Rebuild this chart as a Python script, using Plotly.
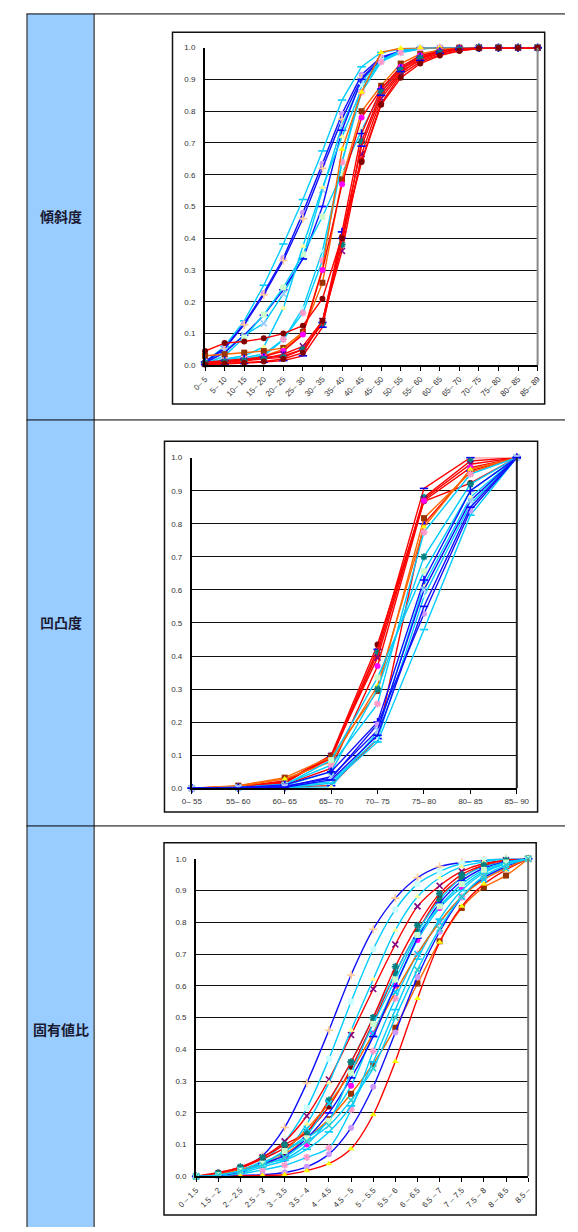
import plotly.graph_objects as go

W, H = 578, 1232

# ---- 傾斜度 (slope) : cumulative ratio per class ----
slope_categories = ["0– 5", "5– 10", "10– 15", "15– 20", "20– 25", "25– 30", "30– 35",
                    "35– 40", "40– 45", "45– 50", "50– 55", "55– 60", "60– 65", "65– 70",
                    "70– 75", "75– 80", "80– 85", "85– 89"]
slope_values = [
    [0.010, 0.060, 0.140, 0.252, 0.382, 0.522, 0.675, 0.835, 0.940, 0.985, 0.996, 1, 1, 1, 1, 1, 1, 1],
    [0.012, 0.055, 0.132, 0.228, 0.338, 0.480, 0.635, 0.792, 0.915, 0.970, 0.990, 0.998, 1, 1, 1, 1, 1, 1],
    [0.008, 0.052, 0.128, 0.222, 0.330, 0.462, 0.620, 0.775, 0.905, 0.965, 0.988, 0.997, 1, 1, 1, 1, 1, 1],
    [0.006, 0.045, 0.095, 0.132, 0.225, 0.340, 0.552, 0.755, 0.895, 0.960, 0.985, 0.996, 1, 1, 1, 1, 1, 1],
    [0.008, 0.040, 0.095, 0.158, 0.238, 0.335, 0.500, 0.740, 0.900, 0.965, 0.990, 0.998, 1, 1, 1, 1, 1, 1],
    [0.005, 0.030, 0.088, 0.160, 0.245, 0.350, 0.468, 0.605, 0.740, 0.860, 0.935, 0.975, 0.992, 0.998, 1, 1, 1, 1],
    [0.004, 0.020, 0.030, 0.058, 0.180, 0.375, 0.560, 0.720, 0.870, 0.960, 0.990, 1, 1, 1, 1, 1, 1, 1],
    [0.003, 0.015, 0.020, 0.030, 0.080, 0.180, 0.360, 0.640, 0.880, 0.960, 0.990, 1, 1, 1, 1, 1, 1, 1],
    [0.004, 0.018, 0.025, 0.035, 0.082, 0.165, 0.330, 0.640, 0.860, 0.955, 0.985, 0.997, 1, 1, 1, 1, 1, 1],
    [0.030, 0.035, 0.040, 0.045, 0.055, 0.105, 0.260, 0.585, 0.800, 0.880, 0.950, 0.980, 0.993, 1, 1, 1, 1, 1],
    [0.002, 0.005, 0.010, 0.030, 0.050, 0.100, 0.305, 0.680, 0.860, 0.985, 0.998, 1, 1, 1, 1, 1, 1, 1],
    [0.005, 0.010, 0.015, 0.028, 0.045, 0.097, 0.300, 0.570, 0.780, 0.870, 0.940, 0.975, 0.990, 0.998, 1, 1, 1, 1],
    [0.045, 0.070, 0.075, 0.085, 0.100, 0.125, 0.210, 0.405, 0.645, 0.825, 0.915, 0.955, 0.978, 0.990, 0.997, 1, 1, 1],
    [0.010, 0.015, 0.020, 0.025, 0.030, 0.050, 0.135, 0.420, 0.730, 0.870, 0.935, 0.970, 0.988, 0.996, 1, 1, 1, 1],
    [0.005, 0.010, 0.015, 0.020, 0.035, 0.060, 0.140, 0.360, 0.665, 0.840, 0.920, 0.965, 0.985, 0.995, 1, 1, 1, 1],
    [0.008, 0.012, 0.015, 0.020, 0.025, 0.050, 0.130, 0.380, 0.705, 0.860, 0.930, 0.968, 0.985, 0.995, 1, 1, 1, 1],
    [0.002, 0.004, 0.006, 0.010, 0.015, 0.030, 0.120, 0.400, 0.690, 0.850, 0.925, 0.960, 0.982, 0.994, 1, 1, 1, 1],
    [0.003, 0.006, 0.008, 0.012, 0.020, 0.040, 0.140, 0.400, 0.640, 0.820, 0.905, 0.950, 0.975, 0.990, 0.998, 1, 1, 1],
]
slope_styles = [
    ("cyan", "line-ew", "#00CCFF"), ("blue", "circle", "#CC99FF"), ("blue", "cross-thin", "#FFCC99"),
    ("cyan", "x-thin", "#99CCFF"), ("blue", "line-ew", "#0000FF"), ("cyan", "square", "#CCFFCC"),
    ("cyan", "triangle-up", "#FFFF99"), ("cyan", "x-thin", "#CCFFFF"), ("cyan", "asterisk", "#FF99CC"),
    ("orange", "square", "#993300"), ("orange", "triangle-up", "#FFFF00"), ("red", "circle", "#FF00FF"),
    ("red", "circle", "#800000"), ("red", "cross-thin", "#0000FF"), ("red", "x-thin", "#800080"),
    ("red", "asterisk", "#008080"), ("red", "line-ew", "#0000FF"), ("red", "circle", "#800000"),
]

# ---- 凹凸度 (roughness) ----
rough_categories = ["0– 55", "55– 60", "60– 65", "65– 70", "70– 75", "75– 80", "80– 85", "85– 90"]
rough_values = [
    [0, 0.004, 0.020, 0.100, 0.435, 0.868, 0.923, 1],
    [0, 0.003, 0.018, 0.095, 0.420, 0.907, 1.000, 1],
    [0, 0.005, 0.022, 0.090, 0.410, 0.880, 0.990, 1],
    [0, 0.004, 0.015, 0.098, 0.395, 0.875, 0.980, 1],
    [0, 0.002, 0.010, 0.060, 0.370, 0.870, 0.970, 1],
    [0, 0.001, 0.003, 0.008, 0.150, 0.800, 0.960, 1],
    [0, 0.008, 0.032, 0.095, 0.294, 0.817, 0.955, 1],
    [0, 0.006, 0.028, 0.080, 0.310, 0.790, 0.965, 1],
    [0, 0.003, 0.012, 0.070, 0.255, 0.775, 0.950, 1],
    [0, 0.002, 0.010, 0.085, 0.335, 0.656, 0.900, 1],
    [0, 0.001, 0.003, 0.004, 0.170, 0.615, 0.880, 1],
    [0, 0.001, 0.004, 0.020, 0.150, 0.580, 0.860, 1],
    [0, 0.000, 0.002, 0.015, 0.140, 0.480, 0.826, 1],
    [0, 0.002, 0.008, 0.050, 0.300, 0.700, 0.920, 1],
    [0, 0.002, 0.010, 0.050, 0.200, 0.630, 0.900, 1],
    [0, 0.001, 0.006, 0.030, 0.193, 0.528, 0.840, 1],
    [0, 0.001, 0.004, 0.035, 0.175, 0.600, 0.870, 1],
    [0, 0.000, 0.003, 0.025, 0.160, 0.550, 0.850, 1],
]
rough_styles = [
    ("red", "circle", "#800000"), ("red", "line-ew", "#0000FF"), ("red", "asterisk", "#008080"),
    ("red", "x-thin", "#800080"), ("red", "circle", "#FF00FF"), ("red", "cross-thin", "#0000FF"),
    ("orange", "square", "#993300"), ("orange", "triangle-up", "#FFFF00"), ("cyan", "asterisk", "#FF99CC"),
    ("cyan", "square", "#CCFFCC"), ("cyan", "triangle-up", "#FFFF99"), ("cyan", "x-thin", "#CCFFFF"),
    ("cyan", "line-ew", "#00CCFF"), ("cyan", "asterisk", "#008080"), ("blue", "cross-thin", "#0000FF"),
    ("blue", "circle", "#CC99FF"), ("blue", "x-thin", "#99CCFF"), ("blue", "line-ew", "#0000FF"),
]

# ---- 固有値比 (eigenvalue ratio) ----
eigen_categories = ["0 – 1.5", "1.5 – 2", "2 – 2.5", "2.5 – 3", "3 – 3.5", "3.5 – 4", "4 – 4.5",
                    "4.5 – 5", "5 – 5.5", "5.5 – 6", "6 – 6.5", "6.5 – 7", "7 – 7.5", "7.5 – 8",
                    "8 – 8.5", "8.5 –"]
eigen_values = [
    [0, 0.005, 0.025, 0.065, 0.154, 0.294, 0.460, 0.634, 0.778, 0.876, 0.940, 0.975, 0.988, 0.995, 1, 1],
    [0, 0.004, 0.020, 0.050, 0.110, 0.215, 0.370, 0.550, 0.715, 0.840, 0.920, 0.960, 0.985, 0.995, 1, 1],
    [0, 0.008, 0.025, 0.060, 0.110, 0.190, 0.305, 0.445, 0.590, 0.730, 0.850, 0.915, 0.960, 0.985, 0.995, 1],
    [0, 0.003, 0.015, 0.045, 0.075, 0.165, 0.295, 0.460, 0.620, 0.775, 0.880, 0.940, 0.975, 0.990, 1, 1],
    [0, 0.012, 0.028, 0.055, 0.090, 0.140, 0.220, 0.340, 0.485, 0.640, 0.770, 0.880, 0.940, 0.978, 0.990, 1],
    [0, 0.005, 0.020, 0.040, 0.080, 0.130, 0.235, 0.360, 0.500, 0.640, 0.770, 0.870, 0.940, 0.975, 0.990, 1],
    [0, 0.003, 0.015, 0.040, 0.055, 0.100, 0.180, 0.285, 0.450, 0.600, 0.744, 0.845, 0.910, 0.960, 0.985, 1],
    [0, 0.005, 0.020, 0.035, 0.070, 0.120, 0.180, 0.260, 0.354, 0.468, 0.607, 0.740, 0.845, 0.910, 0.947, 1],
    [0, 0.002, 0.008, 0.020, 0.035, 0.060, 0.090, 0.210, 0.394, 0.560, 0.700, 0.800, 0.880, 0.940, 0.970, 1],
    [0, 0.001, 0.003, 0.005, 0.012, 0.030, 0.070, 0.153, 0.282, 0.453, 0.628, 0.770, 0.878, 0.940, 0.975, 1],
    [0, 0.000, 0.001, 0.003, 0.005, 0.018, 0.040, 0.087, 0.194, 0.362, 0.560, 0.737, 0.850, 0.920, 0.965, 1],
    [0, 0.002, 0.010, 0.030, 0.050, 0.085, 0.140, 0.222, 0.360, 0.525, 0.684, 0.810, 0.900, 0.955, 0.985, 1],
    [0, 0.010, 0.030, 0.060, 0.100, 0.140, 0.240, 0.360, 0.500, 0.660, 0.790, 0.890, 0.950, 0.980, 0.995, 1],
    [0, 0.005, 0.020, 0.040, 0.080, 0.150, 0.230, 0.330, 0.450, 0.580, 0.700, 0.800, 0.880, 0.935, 0.970, 1],
    [0, 0.003, 0.015, 0.040, 0.065, 0.120, 0.200, 0.310, 0.440, 0.600, 0.750, 0.860, 0.930, 0.970, 0.990, 1],
    [0, 0.004, 0.018, 0.040, 0.080, 0.120, 0.175, 0.326, 0.480, 0.620, 0.760, 0.850, 0.920, 0.965, 0.988, 1],
    [0, 0.004, 0.016, 0.035, 0.060, 0.110, 0.160, 0.240, 0.340, 0.500, 0.650, 0.780, 0.880, 0.945, 0.980, 1],
]
eigen_styles = [
    ("blue", "cross-thin", "#FFCC99"), ("cyan", "square", "#CCFFFF"), ("red", "x-thin", "#800080"),
    ("cyan", "triangle-up", "#FFFF99"), ("red", "circle", "#800000"), ("cyan", "asterisk", "#008080"),
    ("cyan", "circle", "#FF00FF"), ("orange", "square", "#993300"), ("cyan", "asterisk", "#FF99CC"),
    ("blue", "circle", "#CC99FF"), ("red", "triangle-up", "#FFFF00"), ("cyan", "line-ew", "#00CCFF"),
    ("red", "asterisk", "#008080"), ("orange", "x-thin", "#00CCFF"), ("blue", "line-ew", "#0000FF"),
    ("cyan", "square", "#CCFFCC"), ("cyan", "x-thin", "#33CCCC"),
]

row_titles = ["傾斜度", "凹凸度", "固有値比"]

LINE_COLORS = {"red": "#FF0000", "orange": "#FF6600", "cyan": "#00CCFF", "blue": "#1010FF"}
STROKE_SYMBOLS = {"line-ew", "cross-thin", "x-thin", "asterisk"}
TICK_FONT = dict(family="Liberation Sans, Arial, sans-serif", size=8, color="#333333")

fig = go.Figure()


def add_chart(idx, cats, values, styles, plot_box, frame_box, angle, smooth, right_color):
    xname = "x" if idx == 1 else f"x{idx}"
    yname = "y" if idx == 1 else f"y{idx}"
    x0, y0, x1, y1 = plot_box
    n = len(cats)
    for vals, (lc, sym, mc) in zip(values, styles):
        if sym in STROKE_SYMBOLS:
            marker = dict(symbol=sym, size=6, color=mc, line=dict(width=1.6, color=mc))
        else:
            marker = dict(symbol=sym, size=6, color=mc, line=dict(width=0))
        line = dict(color=LINE_COLORS[lc], width=1.4)
        if smooth:
            line.update(shape="spline", smoothing=0.8)
        fig.add_trace(go.Scatter(
            x=list(range(n)), y=vals, mode="lines+markers", line=line, marker=marker,
            xaxis=xname, yaxis=yname, cliponaxis=False, showlegend=False, hoverinfo="skip"))

    xa = dict(domain=[x0 / W, x1 / W], range=[0, n - 1], tickmode="array",
              tickvals=list(range(n)), ticktext=cats, tickangle=angle,
              ticks="outside", ticklen=4, tickcolor="black", tickwidth=1,
              showline=True, linecolor="black", linewidth=2, showgrid=False,
              zeroline=False, tickfont=TICK_FONT, anchor=yname, fixedrange=True)
    ya = dict(domain=[1 - y1 / H, 1 - y0 / H], range=[0, 1], tick0=0, dtick=0.1,
              tickformat=".1f", showline=True, linecolor="black", linewidth=2,
              showgrid=True, gridcolor="#111111", gridwidth=1, zeroline=False,
              ticks="outside", ticklen=6, tickcolor="rgba(0,0,0,0)",
              tickfont=TICK_FONT, anchor=xname, fixedrange=True)
    key = "" if idx == 1 else str(idx)
    fig.update_layout(**{f"xaxis{key}": xa, f"yaxis{key}": ya})

    # plot-area right edge
    fig.add_shape(type="line", xref="paper", yref="paper", x0=x1 / W, x1=x1 / W,
                  y0=1 - y1 / H, y1=1 - y0 / H, line=dict(color=right_color, width=2))
    # chart frame
    fx0, fy0, fx1, fy1 = frame_box
    fig.add_shape(type="rect", xref="paper", yref="paper", x0=fx0 / W, x1=fx1 / W,
                  y0=1 - fy1 / H, y1=1 - fy0 / H, line=dict(color="#111111", width=1.5))


# table background and rules
fig.add_shape(type="rect", xref="paper", yref="paper", x0=9 / W, x1=79 / W, y0=0, y1=1 - 10 / H,
              fillcolor="#99CCFF", line=dict(width=0), layer="below")
for yy in (10, 419, 828):
    fig.add_shape(type="line", xref="paper", yref="paper", x0=8 / W, x1=1,
                  y0=1 - yy / H, y1=1 - yy / H, line=dict(color="black", width=1))
for xx in (8.5, 79.5):
    fig.add_shape(type="line", xref="paper", yref="paper", x0=xx / W, x1=xx / W,
                  y0=0, y1=1 - 10 / H, line=dict(color="black", width=1))

add_chart(1, slope_categories, slope_values, slope_styles,
          (197, 44, 549, 364), (162.5, 28.5, 556.5, 403), -45, False, "#888888")
add_chart(2, rough_categories, rough_values, rough_styles,
          (183, 457, 527, 790), (154, 440.5, 549, 814), 0, False, "#222222")
add_chart(3, eigen_categories, eigen_values, eigen_styles,
          (187.5, 861, 539, 1181), (153.5, 845, 547.5, 1220), -45, True, "#777777")

for title, yy in zip(row_titles, (214, 623, 1033)):
    fig.add_annotation(xref="paper", yref="paper", x=44 / W, y=1 - yy / H, text=f"<b>{title}</b>",
                       showarrow=False, xanchor="center", yanchor="middle",
                       font=dict(family="Noto Sans CJK JP", size=14, color="#1A1A33"))

fig.update_layout(width=W, height=H, margin=dict(l=0, r=0, t=0, b=0),
                  paper_bgcolor="white", plot_bgcolor="white", showlegend=False)

fig.write_html("out.html", config={"displayModeBar": False})
